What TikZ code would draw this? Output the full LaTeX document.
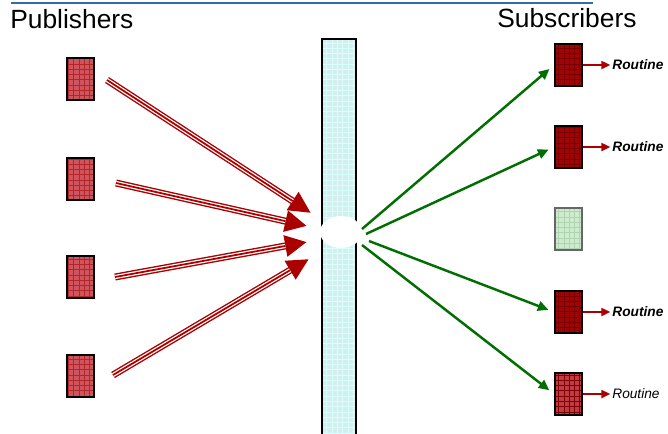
\documentclass[tikz,border=0pt]{standalone}
\usepackage{fontspec}
\setmainfont{Liberation Sans}
\usetikzlibrary{arrows.meta,positioning,shapes.geometric,patterns}
\definecolor{darkred}{RGB}{170,0,0}
\definecolor{pubred}{RGB}{205,85,95}
\definecolor{subred}{RGB}{160,5,5}
\definecolor{lastred}{RGB}{190,60,70}
\definecolor{busblue}{RGB}{212,238,238}
\definecolor{subgreen}{RGB}{205,236,205}
\definecolor{linkgreen}{RGB}{0,110,0}
\definecolor{ruleblue}{RGB}{50,110,160}

\begin{document}
\begin{tikzpicture}[x=0.02cm, y=-0.02cm,
  box/.style={draw=black, line width=1pt, minimum width=0.54cm, minimum height=0.84cm, inner sep=0pt, pattern=grid},
  pub/.style={box, preaction={fill=pubred}, pattern color=darkred!85},
  sub/.style={box, preaction={fill=subred}, pattern color=darkred!70!black},
  bus/.style={draw=black, line width=1.2pt, minimum width=0.68cm, minimum height=8.02cm, inner sep=0pt, preaction={fill=busblue}, pattern=grid, pattern color=cyan!15!white},
  hub/.style={ellipse, fill=white, minimum width=0.84cm, minimum height=0.64cm, inner sep=0pt},
  head/.style={font=\fontsize{15}{17}\selectfont, anchor=base west, inner sep=0pt},
  routine/.style={font=\fontsize{7.8}{9}\selectfont\bfseries\itshape, anchor=west, inner sep=0pt},
  feed/.style={draw=darkred, line width=4pt, -{Triangle[length=12.5pt,width=11.5pt]},
    postaction={draw=white, line width=2.4pt, shorten >=12.5pt, -},
    postaction={draw=darkred, line width=1pt, shorten >=12.5pt, -}},
  notify/.style={draw=linkgreen, line width=1.4pt, -{Triangle[length=6pt,width=5.5pt]}, shorten >=3.5pt},
  call/.style={draw=darkred, line width=1.1pt, -{Triangle[length=5pt,width=4.5pt]}, shorten >=1pt}]
\useasboundingbox (0,0) rectangle (668,433);
\clip (0,0) rectangle (668,433);
\draw[ruleblue, line width=0.6pt] (11,3) -- (593,3);
\node[head] (pubtitle) at (10,28) {Publishers};
\node[head] (subtitle) at (497,27) {Subscribers};
% publishers
\node[pub] (pub1) at (80.5,79) {};
\node[pub] (pub2) at (80.5,179) {};
\node[pub] (pub3) at (80.5,277) {};
\node[pub] (pub4) at (80.5,376) {};
% event bus
\node[bus] (bus) at (339,239.5) {};
\node[hub] (hub) at (341,232) {};
% subscribers
\node[sub] (sub1) at (568.5,65) {};
\node[sub] (sub2) at (568.5,147) {};
\node[box, preaction={fill=subgreen}, pattern color=linkgreen!30, draw=black!60] (sub3) at (568.5,229) {};
\node[sub] (sub4) at (568.5,312) {};
\node[box, preaction={fill=lastred}, pattern color=darkred!75!black] (sub5) at (568.5,394) {};
\node[routine] (rt1) at (612,65) {Routine};
\node[routine] (rt2) at (612,147) {Routine};
\node[routine] (rt4) at (612,312) {Routine};
\node[routine, font=\fontsize{7.8}{9}\selectfont\itshape] (rt5) at (612,394) {Routine};
% publish
\coordinate (s1) at (107,80);  \coordinate (e1) at (311,213);
\coordinate (s2) at (116,183); \coordinate (e2) at (307,226);
\coordinate (s3) at (115,277); \coordinate (e3) at (307,242);
\coordinate (s4) at (113,375); \coordinate (e4) at (309,259);
\foreach \i in {1,...,4} \draw[feed] (s\i) -- (e\i);
% deliver
\coordinate (o1) at (362,229);
\coordinate (o2) at (366,234);
\coordinate (o4) at (369,241);
\coordinate (o5) at (362,245);
\foreach \i in {1,2,4,5} \draw[notify] (o\i) -- (sub\i.west);
\foreach \i in {1,2,4,5} \draw[call] (sub\i.east) -- (rt\i.west);
\end{tikzpicture}
\end{document}
